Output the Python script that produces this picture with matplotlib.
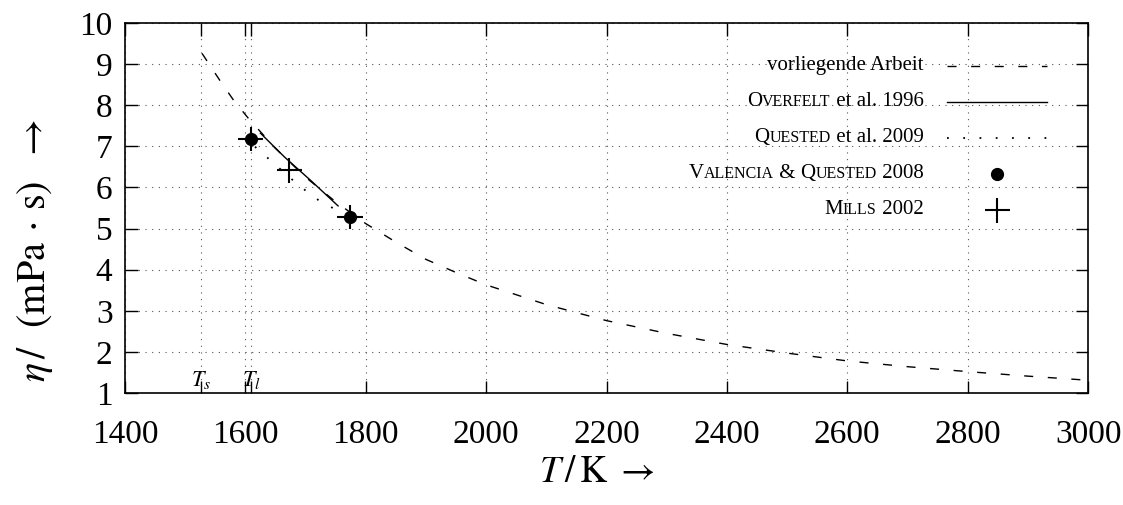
import matplotlib
matplotlib.use("Agg")
import matplotlib.pyplot as plt
from matplotlib.lines import Line2D
from matplotlib.offsetbox import TextArea, HPacker, VPacker, DrawingArea, AnchoredOffsetbox

plt.rcParams['font.family'] = ['Liberation Serif', 'DejaVu Serif']
plt.rcParams['mathtext.fontset'] = 'stix'

# vorliegende Arbeit (dashed model curve)
T_model = [1528, 1560, 1580, 1605, 1650, 1700, 1750, 1800, 1850, 1900, 1950,
           2000, 2100, 2200, 2300, 2400, 2500, 2600, 2700, 2800, 2900, 3000]
eta_model = [9.26, 8.55, 8.13, 7.68, 6.95, 6.25, 5.65, 5.12, 4.67, 4.25, 3.93,
             3.63, 3.15, 2.76, 2.45, 2.18, 1.97, 1.78, 1.64, 1.52, 1.41, 1.31]

# Overfelt et al. 1996
T_overfelt = [1625, 1665, 1710, 1754]
eta_overfelt = [7.32, 6.74, 6.15, 5.55]

# Quested et al. 2009
T_quested = [1616, 1650, 1677, 1702, 1728, 1760, 1790]
eta_quested = [6.99, 6.55, 6.20, 5.90, 5.62, 5.40, 5.21]

# Valencia & Quested 2008
T_valencia = [1609, 1774]
eta_valencia = [7.18, 5.29]
T_valencia_err = [21, 21]
eta_valencia_err = [0.29, 0.29]

# Mills 2002
T_mills = [1673]
eta_mills = [6.43]

# solidus / liquidus
T_s = 1527
T_l = 1610

xticks = list(range(1400, 3001, 200))
yticks = list(range(1, 11))

fig = plt.figure(figsize=(11.23, 5.05), dpi=100)
ax = fig.add_axes([0.1113, 0.2218, 0.8576, 0.7327])

dash = (0, (6.5, 10.5))
dots = (0, (1, 8))

ax.plot(T_model, eta_model, color='black', lw=1.0, linestyle=dash)
ax.plot(T_overfelt, eta_overfelt, color='black', lw=1.0)
ax.plot(T_quested, eta_quested, color='black', lw=1.3, linestyle=dots)
ax.errorbar(T_valencia, eta_valencia, xerr=T_valencia_err, yerr=eta_valencia_err,
            fmt='o', color='black', ms=8.5, elinewidth=1.5, capsize=0)
ax.plot(T_mills, eta_mills, '+', color='black', ms=18, mew=1.5)

ax.set_xlim(1400, 3000)
ax.set_ylim(1, 10)
ax.set_xticks(xticks)
ax.set_yticks(yticks)
ax.set_xticks([T_s, T_l], minor=True)
ax.tick_params(which='both', direction='in', top=True, right=True,
               length=9, width=1.0, labelsize=24)
ax.tick_params(axis='x', which='major', pad=19)
ax.tick_params(axis='y', which='major', pad=9)
ax.grid(which='both', color='#555555', linestyle=(0, (1, 5)), lw=0.8)
for s in ax.spines.values():
    s.set_linewidth(1.2)

ax.text(T_s, 1.32, r'$T_s$', fontsize=16, ha='center', va='center')
ax.text(T_l, 1.32, r'$T_l$', fontsize=16, ha='center', va='center')

ax.set_xlabel(r'$T\,/\,\mathrm{K}\ \rightarrow$', fontsize=27)
ax.xaxis.set_label_coords(0.49, -0.17)
ax.set_ylabel(r'$\eta\,/\ \ (\mathrm{mPa}\,\cdot\,\mathrm{s})\ \ \rightarrow$',
              fontsize=29)
ax.yaxis.set_label_coords(-0.073, 0.385)


# legend with small caps labels
big, small = 15, 11.5


def label(parts):
    boxes = [TextArea(t, textprops=dict(fontsize=s, family='Liberation Serif'))
             for t, s in parts]
    return HPacker(children=boxes, align='baseline', pad=0, sep=0)


def handle(kind):
    da = DrawingArea(72, 18, 0, 0)
    if kind == 'dash':
        da.add_artist(Line2D([0, 72], [9, 9], color='black', lw=1.0, linestyle=dash))
    elif kind == 'solid':
        da.add_artist(Line2D([0, 72], [9, 9], color='black', lw=1.0))
    elif kind == 'dot':
        da.add_artist(Line2D([0, 72], [9, 9], color='black', lw=1.3, linestyle=dots))
    elif kind == 'circle':
        da.add_artist(Line2D([36], [9], marker='o', color='black', ms=8.5))
    else:
        da.add_artist(Line2D([36], [9], marker='+', color='black', ms=18, mew=1.5))
    return da


entries = [
    ([("vorliegende Arbeit", big)], 'dash'),
    ([("O", big), ("VERFELT", small), (" et al. 1996", big)], 'solid'),
    ([("Q", big), ("UESTED", small), (" et al. 2009", big)], 'dot'),
    ([("V", big), ("ALENCIA", small), (" & ", big), ("Q", big),
      ("UESTED", small), (" 2008", big)], 'circle'),
    ([("M", big), ("ILLS", small), (" 2002", big)], 'plus'),
]

rows = [HPacker(children=[label(p), handle(k)], align='center', pad=0, sep=17)
        for p, k in entries]
vbox = VPacker(children=rows, align='right', pad=0, sep=8)
anchored = AnchoredOffsetbox(loc='upper right', child=vbox, frameon=False,
                             bbox_to_anchor=(1047 / 1123, 1 - 53 / 505),
                             bbox_transform=fig.transFigure, borderpad=0, pad=0)
ax.add_artist(anchored)

fig.savefig('out.png', dpi=100)
